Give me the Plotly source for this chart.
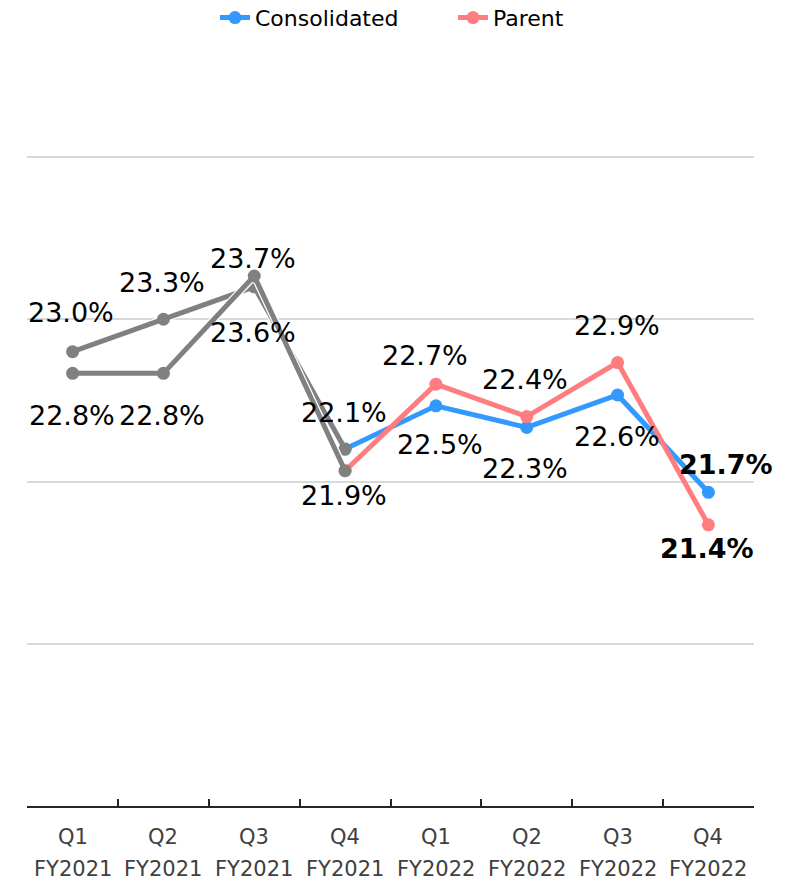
import plotly.graph_objects as go

# Quarterly ratio, consolidated vs parent company
quarters = ["Q1", "Q2", "Q3", "Q4", "Q1", "Q2", "Q3", "Q4"]
fiscal_years = ["FY2021", "FY2021", "FY2021", "FY2021",
                "FY2022", "FY2022", "FY2022", "FY2022"]
consolidated = [23.0, 23.3, 23.6, 22.1, 22.5, 22.3, 22.6, 21.7]
parent = [22.8, 22.8, 23.7, 21.9, 22.7, 22.4, 22.9, 21.4]

categories = [f"{q} {fy}" for q, fy in zip(quarters, fiscal_years)]

# label placement relative to each point (pixels: x right, y down)
cons_offsets = [(-2, -39), (-1, -37), (-1, 46), (-1, -37),
                (4, 39), (-2, 41), (-1, 42), (18, -28)]
par_offsets = [(-1, 42), (-1, 42), (-1, -18), (-1, 25),
               (-11, -29), (-2, -37), (-1, -37), (-1, 24)]

BLUE = "#3399FF"
PINK = "#FF7C80"
GRAY = "#808080"
FONT = "DejaVu Sans"
LW = 5
MS = 13

prev = slice(0, 4)     # FY2021 quarters
curr = slice(3, 8)     # Q4 FY2021 onward

fig = go.Figure()

fig.add_trace(go.Scatter(
    x=categories[curr], y=consolidated[curr], name="Consolidated",
    mode="lines+markers", line=dict(color=BLUE, width=LW),
    marker=dict(color=BLUE, size=MS)))
fig.add_trace(go.Scatter(
    x=categories[curr], y=parent[curr], name="Parent",
    mode="lines+markers", line=dict(color=PINK, width=LW),
    marker=dict(color=PINK, size=MS)))

# previous year drawn in gray with a thin white edge
for series in (consolidated, parent):
    fig.add_trace(go.Scatter(
        x=categories[prev], y=series[prev], mode="lines",
        line=dict(color="white", width=LW + 2.5), showlegend=False,
        hoverinfo="skip"))
    fig.add_trace(go.Scatter(
        x=categories[prev], y=series[prev], mode="lines+markers",
        line=dict(color=GRAY, width=LW), marker=dict(color=GRAY, size=MS),
        showlegend=False))

annotations = []
for series, offsets in ((consolidated, cons_offsets), (parent, par_offsets)):
    for i, (cat, v) in enumerate(zip(categories, series)):
        txt = f"{v:.1f}%"
        if i == len(series) - 1:
            txt = f"<b>{txt}</b>"
        dx, dy = offsets[i]
        annotations.append(dict(
            x=cat, y=v, xref="x", yref="y", text=txt, showarrow=False,
            xanchor="center", yanchor="middle", xshift=dx, yshift=-dy,
            font=dict(family=FONT, size=27, color="black")))

# two-row category labels under the axis
for cat, q, fy in zip(categories, quarters, fiscal_years):
    for text, shift in ((q, -31), (fy, -63)):
        annotations.append(dict(
            x=cat, y=0, xref="x", yref="paper", text=text, showarrow=False,
            xanchor="center", yanchor="middle", yshift=shift,
            font=dict(family=FONT, size=21, color="#404040")))

fig.update_layout(
    width=785, height=881,
    margin=dict(l=27, r=31, t=154, b=75, autoexpand=False),
    paper_bgcolor="white", plot_bgcolor="white",
    font=dict(family=FONT, size=22, color="black"),
    showlegend=True,
    legend=dict(orientation="h", x=0.2586, xanchor="left",
                y=1.209, yanchor="middle", font=dict(size=22),
                itemwidth=30, entrywidth=193, traceorder="normal"),
    annotations=annotations,
    xaxis=dict(type="category", categoryorder="array",
               categoryarray=categories, range=[-0.502, 7.502],
               showticklabels=False, showgrid=False, zeroline=False,
               showline=True, linecolor="#262626", linewidth=1.5,
               ticks="inside", tickson="boundaries", ticklen=7,
               tickwidth=1.5, tickcolor="#262626"),
    yaxis=dict(range=[18.8, 24.828], tick0=18.8, dtick=1.5,
               showticklabels=False, showgrid=True, gridcolor="#D9D9D9",
               gridwidth=1.5, zeroline=False, showline=False),
)

fig.write_html("out.html")
